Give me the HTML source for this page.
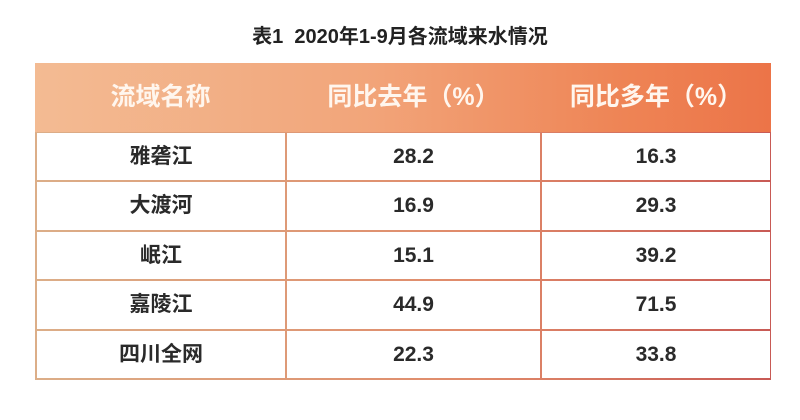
<!DOCTYPE html>
<html><head><meta charset="utf-8"><style>
body{margin:0;width:800px;height:420px;background:#fff;position:relative;overflow:hidden;font-family:"Liberation Sans","Noto Sans CJK SC",sans-serif}
.t{position:absolute;top:20px;left:0;width:800px;text-align:center;font-size:20px;font-weight:bold;color:#222}
.tb{position:absolute;left:35px;top:63px;width:736px;height:317px;background:linear-gradient(90deg,#dcae88,#e08a6a 60%,#c85a55)}
.h{position:absolute;left:0;top:0;width:736px;height:69px;background:linear-gradient(90deg,#f3bb93,#f2a57a 45%,#ee8455 80%,#ec7448)}
.h div{position:absolute;top:0;height:69px;line-height:69px;text-align:center;color:#fff6ee;font-size:25px;font-weight:bold}
.c{position:absolute;background:#fff;text-align:center;font-size:21px;font-weight:bold;color:#2a2a2a}
</style></head><body>
<div class="t">表1&nbsp; 2020年1-9月各流域来水情况</div>
<div class="tb">
<div class="h"><div style="left:0;width:251px">流域名称</div><div style="left:251px;width:255px">同比去年（%）</div><div style="left:506px;width:230px">同比多年（%）</div></div>
</div>
<div id="cells"></div>
<script>
var rows=[["雅砻江","28.2","16.3"],["大渡河","16.9","29.3"],["岷江","15.1","39.2"],["嘉陵江","44.9","71.5"],["四川全网","22.3","33.8"]];
var ys=[132,181,231,280,330,379],xs=[35,286,541,771],h="";
for(var r=0;r<5;r++)for(var c=0;c<3;c++){var x=xs[c]+(c==0?2:1),y=ys[r]+1,w=xs[c+1]-x-1,hh=ys[r+1]-ys[r]-2;
h+='<div class="c" style="left:'+x+'px;top:'+y+'px;width:'+w+'px;height:'+hh+'px;line-height:'+hh+'px">'+rows[r][c]+'</div>';}
document.getElementById("cells").innerHTML=h;
</script>
</body></html>
